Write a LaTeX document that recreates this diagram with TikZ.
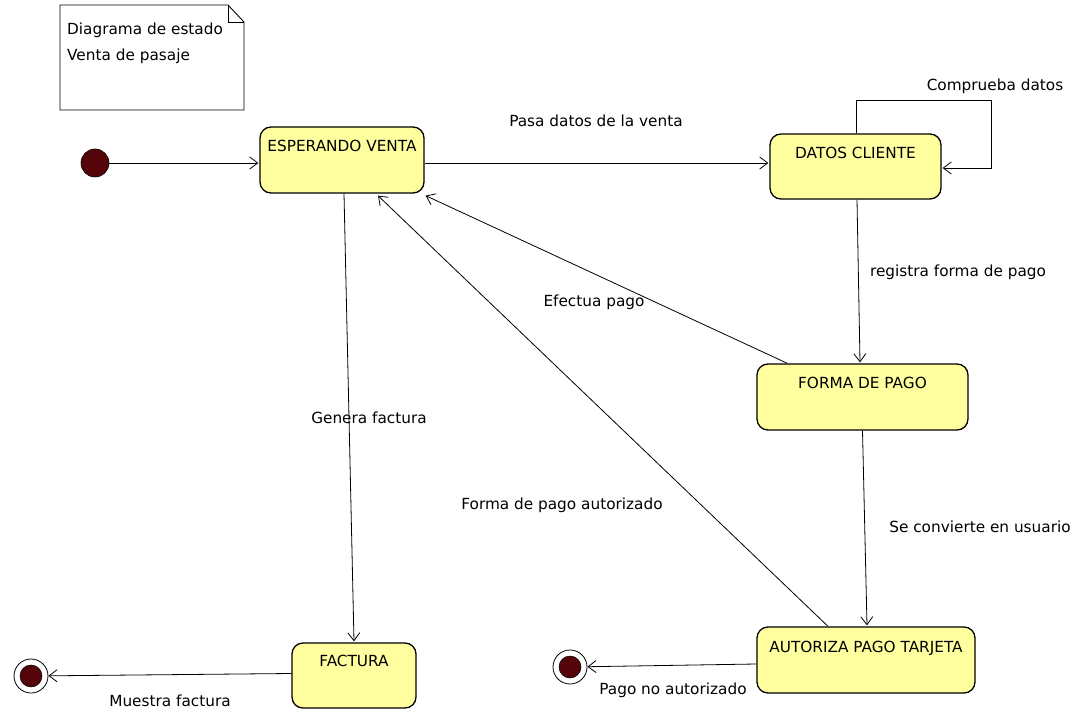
\documentclass[tikz,border=0pt]{standalone}
\usepackage{fontspec}
\setmainfont{DejaVu Sans}
\usetikzlibrary{arrows.meta,calc}
\definecolor{statefill}{RGB}{255,255,160}
\definecolor{dotfill}{RGB}{85,5,10}
\begin{document}
\begin{tikzpicture}[x=1pt,y=-1pt,
  font=\fontsize{15.3}{18}\selectfont,
  trans/.style={draw=black, line width=0.8pt, -{Straight Barb[length=8pt,width=12pt,line width=0.8pt]}},
  statebox/.style={draw=black, line width=1.3pt, fill=statefill, rounded corners=11pt, inner sep=0pt},
  title/.style={anchor=base, inner sep=0pt, yshift=-#1},
  lbl/.style={inner sep=1pt}]
\useasboundingbox (0,0) rectangle (1076,711);

% note in the corner
\draw[line width=0.9pt] (60,5) -- (228,5) -- (244,22) -- (244,110) -- (60,110) -- cycle;
\draw[line width=0.8pt] (228,5) -- (228,22) -- (244,22);
\node[anchor=north west, align=left, inner sep=0pt, font=\fontsize{15.3}{26}\selectfont] (notetext) at (67,23) {Diagrama de estado\\Venta de pasaje};

% states
\node[statebox, minimum width=164pt, minimum height=66pt,
  label={[title=25pt]north:ESPERANDO VENTA}] (ev) at (342,160) {};
\node[statebox, minimum width=171pt, minimum height=65pt,
  label={[title=25.5pt]north:DATOS CLIENTE}] (dc) at (855.5,166.5) {};
\node[statebox, minimum width=211pt, minimum height=66pt,
  label={[title=25.5pt]north:FORMA DE PAGO}] (fp) at (862.5,397) {};
\node[statebox, minimum width=218pt, minimum height=66pt,
  label={[title=26.5pt]north:AUTORIZA PAGO TARJETA}] (az) at (866,660) {};
\node[statebox, minimum width=124pt, minimum height=65pt,
  label={[title=24pt]north:FACTURA}] (fa) at (354,675.5) {};

% initial and final pseudostates
\node[circle, fill=dotfill, draw=black, line width=0.6pt, minimum size=28pt, inner sep=0pt] (init) at (95,163) {};
\node[circle, draw=black, line width=0.8pt, minimum size=34pt, inner sep=0pt] (fin1) at (31,676) {};
\node[circle, fill=dotfill, draw=black, line width=0.5pt, minimum size=22pt, inner sep=0pt] (fin1dot) at (31,676) {};
\node[circle, draw=black, line width=0.8pt, minimum size=34pt, inner sep=0pt] (fin2) at (570,667) {};
\node[circle, fill=dotfill, draw=black, line width=0.5pt, minimum size=22pt, inner sep=0pt] (fin2dot) at (570,667) {};

% transitions
\draw[trans] (init) -- ($(init -| ev.west)+(-1,0)$);
\draw[trans] ($(ev.east)+(0,3)$) -- ($(dc.west)+(-1,-3.5)$);
\draw[trans] ($(dc.north)+(0.5,0)$) |- (991,100) |- ($(dc.east)+(1,1.5)$);
\draw[trans] ($(dc.south)+(1.5,0)$) -- ($(fp.north)+(-2.5,-1)$);
\draw[trans] ($(fp.north west)+(31,0)$) -- ($(ev.south east)+(1,2)$);
\draw[trans] (fp.south) -- ($(az.north)+(1,-1)$);
\draw[trans] ($(az.north)+(-38,0)$) -- ($(ev.south)+(36,2)$);
\draw[trans] ($(ev.south)+(2,0)$) -- ($(fa.north)+(0,-1)$);
\draw[trans] ($(fa.west)+(0,-2)$) -- (fin1);
\draw[trans] ($(az.west)+(0,4)$) -- (fin2);

% transition labels
\node[lbl] (l1) at (596,121) {Pasa datos de la venta};
\node[lbl] (l2) at (995,86) {Comprueba datos};
\node[lbl] (l3) at (958,272) {registra forma de pago};
\node[lbl] (l4) at (594,302) {Efectua pago};
\node[lbl] (l5) at (369,418) {Genera factura};
\node[lbl] (l6) at (980,527) {Se convierte en usuario};
\node[lbl] (l7) at (562,505) {Forma de pago autorizado};
\node[lbl] (l8) at (170,701) {Muestra factura};
\node[lbl] (l9) at (673,690) {Pago no autorizado};
\end{tikzpicture}
\end{document}
